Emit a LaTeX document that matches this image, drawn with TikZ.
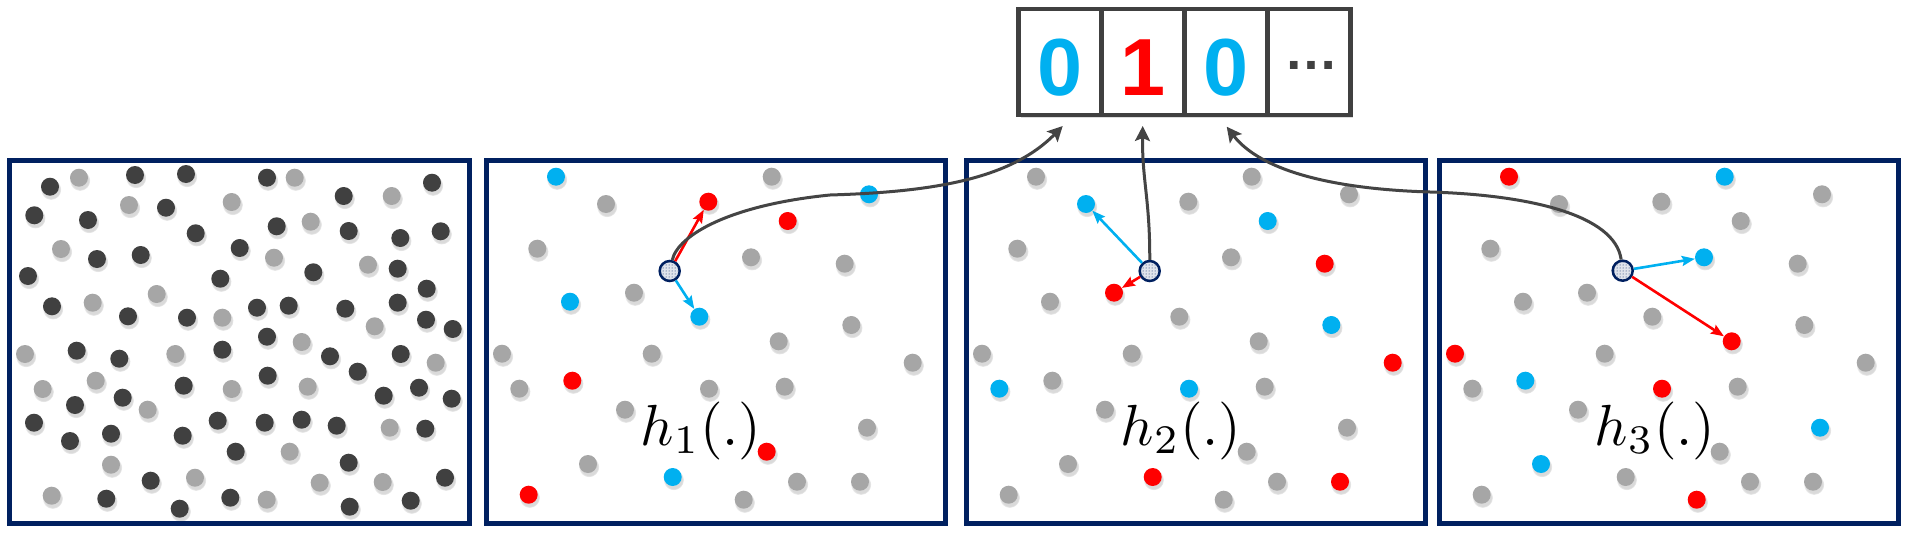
\documentclass[tikz,border=0pt]{standalone}
\usepackage{fontspec}
\newfontfamily\arialb{Liberation Sans}
\usetikzlibrary{arrows.meta,shadows,patterns}
\definecolor{navy}{RGB}{0,32,96}
\definecolor{dk}{RGB}{64,64,64}
\definecolor{lg}{RGB}{166,166,166}
\definecolor{cy}{RGB}{0,176,240}
\definecolor{rd}{RGB}{255,0,0}
\definecolor{ln}{RGB}{68,68,68}
\tikzset{
  pdot/.style={circle, minimum size=18pt, inner sep=0pt, fill=#1,
    circular drop shadow={shadow scale=1.15, shadow xshift=0.8pt, shadow yshift=-2.5pt, opacity=.18, fill=black!80}},
  panel/.style={draw=navy, line width=5pt, fill=white, minimum height=363pt, inner sep=0pt,
    drop shadow={shadow xshift=2pt, shadow yshift=-3pt, opacity=.22, fill=black!60}},
  query/.style={circle, minimum size=20pt, inner sep=0pt, draw=navy, line width=2.5pt,
    preaction={fill=navy!12!white}, pattern=dots, pattern color=navy},
  carrow/.style={-{Stealth[length=13pt,width=10pt,inset=2pt]}, line width=2.6pt},
  conn/.style={draw=ln, line width=3pt, -{Stealth[length=15pt,width=15pt,inset=3pt]}},
  cell/.style={draw=dk, line width=4.5pt, minimum width=83pt, minimum height=106pt, inner sep=0pt},
  digit/.style={font=\arialb\bfseries\fontsize{81}{81}\selectfont, anchor=base},
  hlabel/.style={scale=5.8, anchor=base, inner sep=0pt},
}
\begin{document}
\begin{tikzpicture}[x=1pt,y=-1pt]
\fill[white] (0,0) rectangle (1912,538);
\useasboundingbox (0,0) rectangle (1912,538);

% panels
\node[panel, minimum width=460pt] (P1) at (239,341.5) {};
\node[panel, minimum width=459pt] (P2) at (716,341.5) {};
\node[panel, minimum width=459pt] (P3) at (1196.3,341.5) {};
\node[panel, minimum width=459pt] (P4) at (1668.7,341.5) {};

% panel 1 dots
\foreach \x/\y/\c [count=\i] in {
50/186.7/dk, 79/177.7/lg, 135/175/dk, 186/174/dk, 267/177.7/dk, 294.7/177.7/lg, 343.7/196/dk, 391.7/196/lg, 432/182.7/dk,
34.3/215.3/dk, 129/205/lg, 166/207.7/dk, 231.7/202/lg, 88/220/dk, 195.7/233.3/dk, 276.7/226.3/dk, 310.7/221.7/lg, 348.7/231/dk, 400.3/238/dk, 440.7/231.3/dk,
61/249/lg, 97/259/dk, 140.7/255/dk, 239.7/248/dk, 274/257.7/lg, 28/276/dk, 220.3/278.7/dk, 313.3/272.3/dk, 368/264.7/lg, 397.7/268.7/dk,
156.7/294/lg, 426.7/288.7/dk, 52/306.3/dk, 92.7/302.7/lg, 128/316.3/dk, 187/317.7/dk, 222.3/317.7/lg, 257/307.7/dk, 288.7/305.7/dk, 345.3/308.7/dk, 397.7/302.7/dk, 374.7/326.3/lg, 426/319.7/dk, 452.7/329/dk,
267/336.7/dk, 301.7/342/lg, 25/354/lg, 76.7/350.7/dk, 119.3/358.7/dk, 175.3/354/lg, 222.3/349.7/dk, 330/356.3/dk, 400.7/354/dk, 357.7/371.7/dk, 435.7/362.7/lg,
42.7/389/lg, 95.7/380.7/lg, 183.7/385.7/dk, 231.7/389/lg, 267.7/375.7/dk, 307.7/386.7/lg, 383.7/395.7/dk, 419/387.7/dk, 451.7/398.7/dk,
75/405/dk, 122.7/397.7/dk, 147.7/409.7/lg, 34/422.7/dk, 70/441/dk, 111/433.7/dk, 182.7/435.7/dk, 217.7/420.7/dk, 264.7/422.7/dk, 301.7/419.7/dk, 336.7/425.7/dk, 389.7/427.7/lg, 425.3/428.7/dk,
235.7/451.7/dk, 289.7/451.7/lg, 348.7/462.7/dk, 111/464.7/lg, 150.7/480.7/dk, 195/477.7/lg, 319.7/482.7/lg, 382.7/482/lg, 445/477.7/dk,
51.7/495.7/lg, 106.3/498.7/dk, 179.7/508.7/dk, 230.3/497.7/dk, 266.7/499.7/lg, 349.7/506.7/dk, 410.7/500.7/dk}
{ \node[pdot=\c] (p1-\i) at (\x,\y) {}; }

% panels 2-4 share one layout
\foreach \x/\y/\ca/\cb/\cc/\n in {
556/176.7/cy/lg/rd/a, 771.7/176.7/lg/lg/cy/b, 606/204/lg/cy/lg/c, 708.3/201.7/rd/lg/lg/d,
869/194.3/cy/lg/lg/e, 787.7/221/rd/cy/lg/f, 537.3/248.7/lg/lg/lg/g, 751/257.3/lg/lg/cy/h,
844.7/263.7/lg/rd/lg/i, 570/301.7/cy/lg/lg/j, 634/292.7/lg/rd/lg/k, 699.3/316.7/cy/lg/lg/l,
851.3/325/lg/cy/lg/m, 778.7/341.3/lg/lg/rd/n, 502/353.7/lg/lg/rd/o, 651.7/353.7/lg/lg/lg/p,
912.7/362.7/lg/rd/lg/q, 572.3/380.7/rd/lg/cy/r, 519.3/388.7/lg/cy/lg/s, 709/388.7/lg/cy/rd/t,
784.7/386.7/lg/lg/lg/u, 625/409.7/lg/lg/lg/v, 867/427.7/lg/lg/cy/w, 766.7/451.7/rd/lg/lg/x,
588/464/lg/lg/cy/y, 672.7/477/cy/rd/lg/z, 797/481.7/lg/lg/lg/aa, 860/481.7/lg/rd/lg/bb,
528.7/494.7/rd/lg/lg/cc, 743.7/499.7/lg/lg/rd/dd}
{
  \node[pdot=\ca] (s2-\n) at (\x,\y) {};
  \node[pdot=\cb] (s3-\n) at (\x+480,\y) {};
  \node[pdot=\cc] (s4-\n) at (\x+953,\y) {};
}

% labels
\node[hlabel] (L1) at (701,445) {$h_1(.)$};
\node[hlabel] (L2) at (1181,445) {$h_2(.)$};
\node[hlabel] (L3) at (1655,445) {$h_3(.)$};

% query points
\node[query] (q2) at (669.7,271) {};
\node[query] (q3) at (1149.7,271) {};
\node[query] (q4) at (1622.7,270.7) {};

% neighbour arrows
\draw[carrow, draw=rd, fill=rd] (q2) -- (s2-d);
\draw[carrow, draw=cy, fill=cy] (q2) -- (s2-l);
\draw[carrow, draw=cy, fill=cy] (q3) -- (s3-c);
\draw[carrow, draw=rd, fill=rd] (q3) -- (s3-k);
\draw[carrow, draw=cy, fill=cy] (q4) -- (s4-h);
\draw[carrow, draw=rd, fill=rd] (q4) -- (s4-n);

% bit box
\node[draw=dk, line width=4.5pt, fill=white, minimum width=332pt, minimum height=106pt, inner sep=0pt,
  drop shadow={shadow xshift=2pt, shadow yshift=-3pt, opacity=.22, fill=black!60}] (bits) at (1185,62) {};
\node[cell] (b1) at (1060,62) {};
\node[cell] (b2) at (1143,62) {};
\node[cell] (b3) at (1226,62) {};
\node[cell] (b4) at (1309,62) {};
\node[digit, text=cy] (d1) at (1060,95) {0};
\node[digit, text=rd] (d2) at (1143,95) {1};
\node[digit, text=cy] (d3) at (1226,95) {0};
\node[font=\arialb\bfseries\fontsize{54}{54}\selectfont, text=dk, anchor=base] (d4) at (1311,69) {…};

% connectors to the bits
\coordinate (t1) at (1062.7,126);
\coordinate (t2) at (1142.7,126);
\coordinate (t3) at (1226.7,126.7);
\draw[conn] (q2) .. controls (678,235) and (730,205) .. (830,195) .. controls (930,192) and (1010,180) .. (t1);
\draw[conn] (q3) .. controls (1150,200) and (1142,180) .. (t2);
\draw[conn] (q4) .. controls (1615,215) and (1530,195) .. (1430,192) .. controls (1330,189) and (1260,170) .. (t3);
\end{tikzpicture}
\end{document}
